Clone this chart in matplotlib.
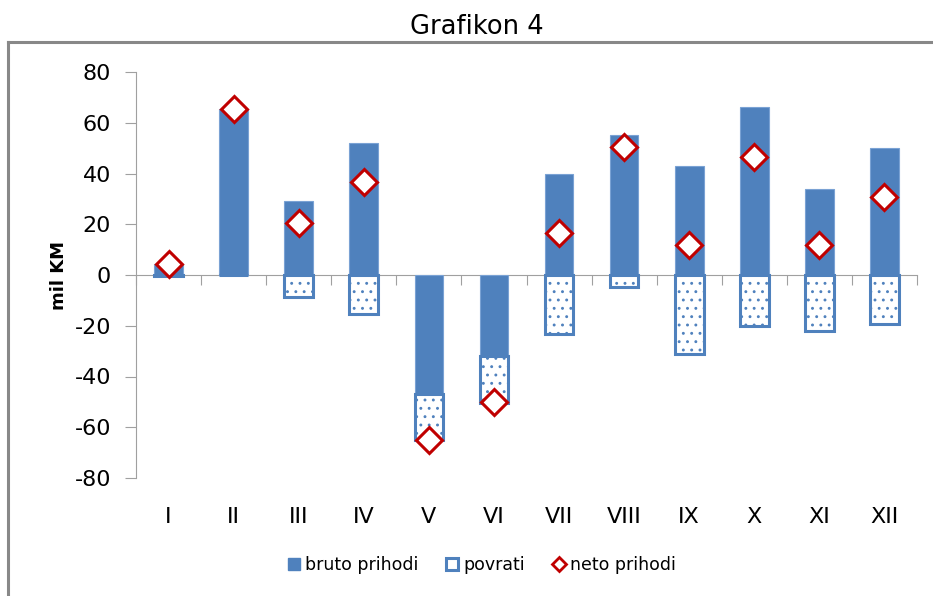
import numpy as np
import matplotlib
matplotlib.use("Agg")
import matplotlib.pyplot as plt
from matplotlib.lines import Line2D
from matplotlib.patches import Patch

# monthly data, mil KM
months = ["I", "II", "III", "IV", "V", "VI", "VII", "VIII", "IX", "X", "XI", "XII"]
bruto = [4.3, 65.5, 29, 52.2, -47, -32, 40, 55, 43, 66.4, 34, 50.2]
povrati = [-0.4, 0, -8.7, -15.4, -18, -18.5, -23.3, -4.7, -31, -20, -22, -19.4]
neto = [4.3, 65.5, 20.3, 36.8, -65, -50, 16.7, 50.5, 12, 46.4, 12, 30.8]

blue = "#4F81BD"
red = "#C00000"

plt.rcParams["hatch.linewidth"] = 0.9
plt.rcParams["axes.unicode_minus"] = False
fig = plt.figure(figsize=(9.33, 5.96), dpi=100)
ax = fig.add_axes([136 / 933, 118 / 596, (917 - 136) / 933, 406 / 596])

x = np.arange(len(months))
w = 0.44
ax.bar(x, bruto, w, color=blue, edgecolor="#7aa2d4", linewidth=0.8, zorder=2)
# povrati stacked under bruto (negative side)
base = [b if b < 0 else 0 for b in bruto]
ax.bar(x, povrati, w, bottom=base, color="white", edgecolor=blue,
       linewidth=2.2, hatch="..", zorder=3)
ax.plot(x, neto, "D", ms=13, mfc="white", mec=red, mew=2.2, zorder=4)

ax.set_xlim(-0.5, 11.5)
ax.set_ylim(-80, 80)
ax.set_yticks(range(-80, 81, 20))
ax.tick_params(axis="y", labelsize=16, length=8, color="#a0a0a0", pad=10)
ax.set_xticks(np.arange(-0.5, 12, 1))
ax.set_xticklabels([])
ax.tick_params(axis="x", length=7, color="#a0a0a0", direction="out")
for s in ["top", "right"]:
    ax.spines[s].set_visible(False)
ax.spines["bottom"].set_position(("data", 0))
ax.spines["bottom"].set_color("#a0a0a0")
ax.spines["left"].set_color("#a0a0a0")
ax.spines["bottom"].set_zorder(1)

for i, m in enumerate(months):
    ax.text(i, -0.096, m, transform=ax.get_xaxis_transform(), ha="center",
            va="center", fontsize=16)

ax.set_ylabel("mil KM", fontsize=13, fontweight="bold")
ax.yaxis.set_label_coords((68 - 136) / 781, 0.5)
fig.text(477 / 933, 1 - 27 / 596, "Grafikon 4", ha="center", va="center",
         fontsize=18.5)

# outer chart frame (left and top visible)
fig.add_artist(Line2D([8 / 933, 8 / 933], [0, 1 - 42 / 596], color="#888888",
                      lw=2.2, transform=fig.transFigure))
fig.add_artist(Line2D([8 / 933, 1], [1 - 42 / 596, 1 - 42 / 596], color="#888888",
                      lw=2.2, transform=fig.transFigure))

handles = [Patch(facecolor=blue, edgecolor=blue),
           Patch(facecolor="white", edgecolor=blue, linewidth=2.2),
           Line2D([], [], marker="D", ls="none", ms=7, mfc="white", mec=red, mew=2)]
fig.legend(handles, ["bruto prihodi", "povrati", "neto prihodi"],
           loc="center", bbox_to_anchor=(482 / 933, 1 - 565 / 596), ncol=3,
           frameon=False, fontsize=12.5, handlelength=0.7, handletextpad=0.3,
           columnspacing=1.6)

fig.savefig("out.png", dpi=100)
